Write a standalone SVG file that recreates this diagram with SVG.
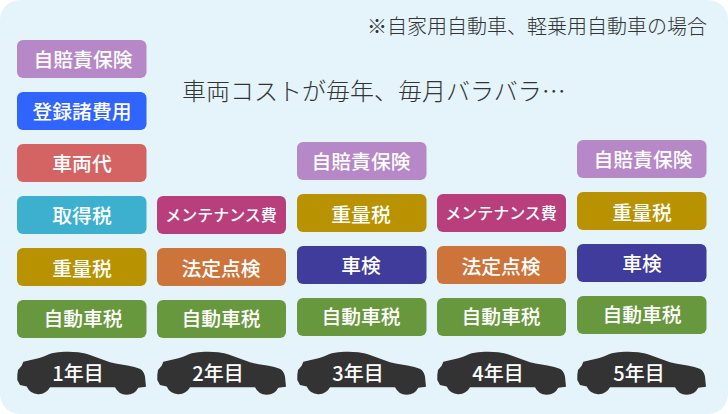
<svg xmlns="http://www.w3.org/2000/svg" width="728" height="414" viewBox="0 0 728 414">
<style>
text{font-family:"Noto Sans CJK JP","Noto Sans",sans-serif}
.l{fill:#fff;font-size:19.800px;font-weight:500;text-anchor:middle}
.m{fill:#fff;font-size:16px;font-weight:500;text-anchor:middle}
.y{fill:#fff;font-size:20px;font-weight:500;text-anchor:middle}
.t{fill:#333;font-size:24px;font-weight:300}
.n{fill:#333;font-size:20px;font-weight:300}
.car{fill:#333}
</style>
<defs>
<path id="car" d="M0.300 25L1 20L4.700 15.700L6.300 11.700L21.300 8.300C26 7 30 5 34.700 3.300C39 2.300 43 1.900 48 1.700C52 1.500 57 1.700 61.300 2.300C65 2.800 69 3.800 73 5L93 12.300C100 14.200 109 15 116.300 16.700C120 17.600 123 18.500 124.700 20C126.500 22 127.500 24 128 26.700L129 36.700L121.300 37.700A13 13 0 0 1 98 37.300L33 37.300A13 13 0 0 1 9.700 36.500L3 35L0.300 30Z"/>
</defs>
<rect width="728" height="414" rx="20" fill="#e4f4fa"/>
<text class="n" x="367" y="34">※自家用自動車、軽乗用自動車の場合</text>
<text class="t" x="182" y="100">車両コストが毎年、毎月バラバラ…</text>
<g id="y1-jibaiseki"><rect x="17" y="40" width="129.500" height="38" rx="6" fill="#b688c8"/><text class="l" x="83" y="67">自賠責保険</text></g>
<g id="y1-toroku"><rect x="17" y="92" width="129.500" height="38" rx="6" fill="#2f64ff"/><text class="l" x="82" y="119">登録諸費用</text></g>
<g id="y1-sharyo"><rect x="17" y="144" width="129.500" height="38" rx="6" fill="#d46464"/><text class="l" x="82" y="171">車両代</text></g>
<g id="y1-shutoku"><rect x="17" y="196" width="129.500" height="38" rx="6" fill="#3cb0ce"/><text class="l" x="82" y="223">取得税</text></g>
<g id="y1-juryo"><rect x="17" y="248" width="129.500" height="38" rx="6" fill="#b89200"/><text class="l" x="82" y="276">重量税</text></g>
<g id="y1-jidosha"><rect x="17" y="300" width="129.500" height="38" rx="6" fill="#68983e"/><text class="l" x="83" y="326">自動車税</text></g>
<g id="y1-car"><use href="#car" class="car" x="17" y="350"/><text class="y" x="78" y="381">1年目</text></g>
<g id="y2-maint"><rect x="157" y="196" width="129" height="38" rx="6" fill="#b83e7c"/><text class="m" x="221" y="221">メンテナンス費</text></g>
<g id="y2-hotei"><rect x="157" y="248" width="129" height="38" rx="6" fill="#cc743a"/><text class="l" x="221" y="276">法定点検</text></g>
<g id="y2-jidosha"><rect x="157" y="300" width="129" height="38" rx="6" fill="#68983e"/><text class="l" x="221" y="326">自動車税</text></g>
<g id="y2-car"><use href="#car" class="car" x="157" y="350"/><text class="y" x="218" y="381">2年目</text></g>
<g id="y3-jibaiseki"><rect x="297" y="142" width="129.500" height="38" rx="6" fill="#b688c8"/><text class="l" x="361" y="169">自賠責保険</text></g>
<g id="y3-juryo"><rect x="297" y="194" width="129.500" height="38" rx="6" fill="#b89200"/><text class="l" x="361" y="222">重量税</text></g>
<g id="y3-shaken"><rect x="297" y="246" width="129.500" height="38" rx="6" fill="#403c9c"/><text class="l" x="361" y="273">車検</text></g>
<g id="y3-jidosha"><rect x="297" y="298" width="129.500" height="38" rx="6" fill="#68983e"/><text class="l" x="361" y="324">自動車税</text></g>
<g id="y3-car"><use href="#car" class="car" x="297" y="350"/><text class="y" x="358" y="381">3年目</text></g>
<g id="y4-maint"><rect x="437" y="194" width="129" height="38" rx="6" fill="#b83e7c"/><text class="m" x="501" y="219">メンテナンス費</text></g>
<g id="y4-hotei"><rect x="437" y="246" width="129" height="38" rx="6" fill="#cc743a"/><text class="l" x="501" y="274">法定点検</text></g>
<g id="y4-jidosha"><rect x="437" y="298" width="129" height="38" rx="6" fill="#68983e"/><text class="l" x="501" y="324">自動車税</text></g>
<g id="y4-car"><use href="#car" class="car" x="437" y="350"/><text class="y" x="498" y="381">4年目</text></g>
<g id="y5-jibaiseki"><rect x="577" y="140" width="129.500" height="38" rx="6" fill="#b688c8"/><text class="l" x="643" y="167">自賠責保険</text></g>
<g id="y5-juryo"><rect x="577" y="192" width="129.500" height="38" rx="6" fill="#b89200"/><text class="l" x="642" y="220">重量税</text></g>
<g id="y5-shaken"><rect x="577" y="244" width="129.500" height="38" rx="6" fill="#403c9c"/><text class="l" x="642" y="271">車検</text></g>
<g id="y5-jidosha"><rect x="577" y="296" width="129.500" height="38" rx="6" fill="#68983e"/><text class="l" x="642" y="322">自動車税</text></g>
<g id="y5-car"><use href="#car" class="car" x="577" y="350"/><text class="y" x="639" y="381">5年目</text></g>
<g id="connectors"/>
</svg>
